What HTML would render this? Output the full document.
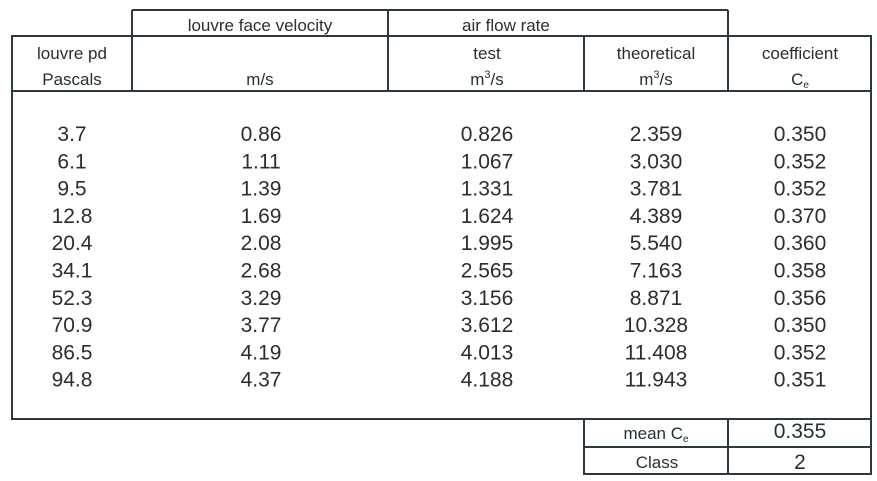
<!DOCTYPE html>
<html>
<head>
<meta charset="utf-8">
<style>
  html,body{margin:0;padding:0;background:#fff;}
  svg{display:block;}
  text{font-family:"Liberation Sans",Arial,sans-serif;fill:#2a2e30;}
  .h{font-size:17px;}
  .d{font-size:21px;}
</style>
</head>
<body>
<svg width="877" height="481" viewBox="0 0 877 481" xmlns="http://www.w3.org/2000/svg">
  <rect width="877" height="481" fill="#ffffff"/>
  <g stroke="#2c3940" stroke-width="2" fill="none">
    <!-- top group header box -->
    <line x1="132" y1="10" x2="728" y2="10"/>
    <!-- main table -->
    <rect x="12" y="36" width="859" height="383"/>
    <line x1="12" y1="91" x2="871" y2="91"/>
    <!-- verticals in header -->
    <line x1="132" y1="10" x2="132" y2="91"/>
    <line x1="388" y1="10" x2="388" y2="91"/>
    <line x1="584" y1="36" x2="584" y2="91"/>
    <line x1="728" y1="10" x2="728" y2="91"/>
    <!-- bottom summary box -->
    <rect x="584" y="419" width="287" height="55"/>
    <line x1="584" y1="447" x2="871" y2="447"/>
    <line x1="728" y1="419" x2="728" y2="474"/>
  </g>

  <!-- header text -->
  <text class="h" x="260" y="31" text-anchor="middle">louvre face velocity</text>
  <text class="h" x="462" y="31">air flow rate</text>

  <text class="h" x="72" y="59" text-anchor="middle">louvre pd</text>
  <text class="h" x="72" y="85" text-anchor="middle">Pascals</text>
  <text class="h" x="260" y="85" text-anchor="middle">m/s</text>
  <text class="h" x="487" y="59" text-anchor="middle">test</text>
  <text class="h" x="487" y="85" text-anchor="middle">m<tspan font-size="11" dy="-7">3</tspan><tspan dy="7">/s</tspan></text>
  <text class="h" x="656" y="59" text-anchor="middle">theoretical</text>
  <text class="h" x="656" y="85" text-anchor="middle">m<tspan font-size="11" dy="-7">3</tspan><tspan dy="7">/s</tspan></text>
  <text class="h" x="800" y="59" text-anchor="middle">coefficient</text>
  <text class="h" x="800" y="85" text-anchor="middle">C<tspan font-size="10" dy="3">e</tspan></text>

  <!-- data -->
  <g class="d" text-anchor="middle">
    <text class="d" x="72" y="141">3.7</text>
    <text class="d" x="261" y="141">0.86</text>
    <text class="d" x="487" y="141">0.826</text>
    <text class="d" x="656" y="141">2.359</text>
    <text class="d" x="800" y="141">0.350</text>

    <text class="d" x="72" y="168.3">6.1</text>
    <text class="d" x="261" y="168.3">1.11</text>
    <text class="d" x="487" y="168.3">1.067</text>
    <text class="d" x="656" y="168.3">3.030</text>
    <text class="d" x="800" y="168.3">0.352</text>

    <text class="d" x="72" y="195.6">9.5</text>
    <text class="d" x="261" y="195.6">1.39</text>
    <text class="d" x="487" y="195.6">1.331</text>
    <text class="d" x="656" y="195.6">3.781</text>
    <text class="d" x="800" y="195.6">0.352</text>

    <text class="d" x="72" y="222.9">12.8</text>
    <text class="d" x="261" y="222.9">1.69</text>
    <text class="d" x="487" y="222.9">1.624</text>
    <text class="d" x="656" y="222.9">4.389</text>
    <text class="d" x="800" y="222.9">0.370</text>

    <text class="d" x="72" y="250.2">20.4</text>
    <text class="d" x="261" y="250.2">2.08</text>
    <text class="d" x="487" y="250.2">1.995</text>
    <text class="d" x="656" y="250.2">5.540</text>
    <text class="d" x="800" y="250.2">0.360</text>

    <text class="d" x="72" y="277.5">34.1</text>
    <text class="d" x="261" y="277.5">2.68</text>
    <text class="d" x="487" y="277.5">2.565</text>
    <text class="d" x="656" y="277.5">7.163</text>
    <text class="d" x="800" y="277.5">0.358</text>

    <text class="d" x="72" y="304.8">52.3</text>
    <text class="d" x="261" y="304.8">3.29</text>
    <text class="d" x="487" y="304.8">3.156</text>
    <text class="d" x="656" y="304.8">8.871</text>
    <text class="d" x="800" y="304.8">0.356</text>

    <text class="d" x="72" y="332.1">70.9</text>
    <text class="d" x="261" y="332.1">3.77</text>
    <text class="d" x="487" y="332.1">3.612</text>
    <text class="d" x="656" y="332.1">10.328</text>
    <text class="d" x="800" y="332.1">0.350</text>

    <text class="d" x="72" y="359.4">86.5</text>
    <text class="d" x="261" y="359.4">4.19</text>
    <text class="d" x="487" y="359.4">4.013</text>
    <text class="d" x="656" y="359.4">11.408</text>
    <text class="d" x="800" y="359.4">0.352</text>

    <text class="d" x="72" y="386.7">94.8</text>
    <text class="d" x="261" y="386.7">4.37</text>
    <text class="d" x="487" y="386.7">4.188</text>
    <text class="d" x="656" y="386.7">11.943</text>
    <text class="d" x="800" y="386.7">0.351</text>
  </g>

  <!-- summary -->
  <text class="h" x="656" y="439" text-anchor="middle">mean C<tspan font-size="10" dy="3">e</tspan></text>
  <text class="d" x="800" y="438" text-anchor="middle">0.355</text>
  <text class="h" x="657" y="468" text-anchor="middle">Class</text>
  <text class="d" x="800" y="469" text-anchor="middle">2</text>
</svg>
</body>
</html>
